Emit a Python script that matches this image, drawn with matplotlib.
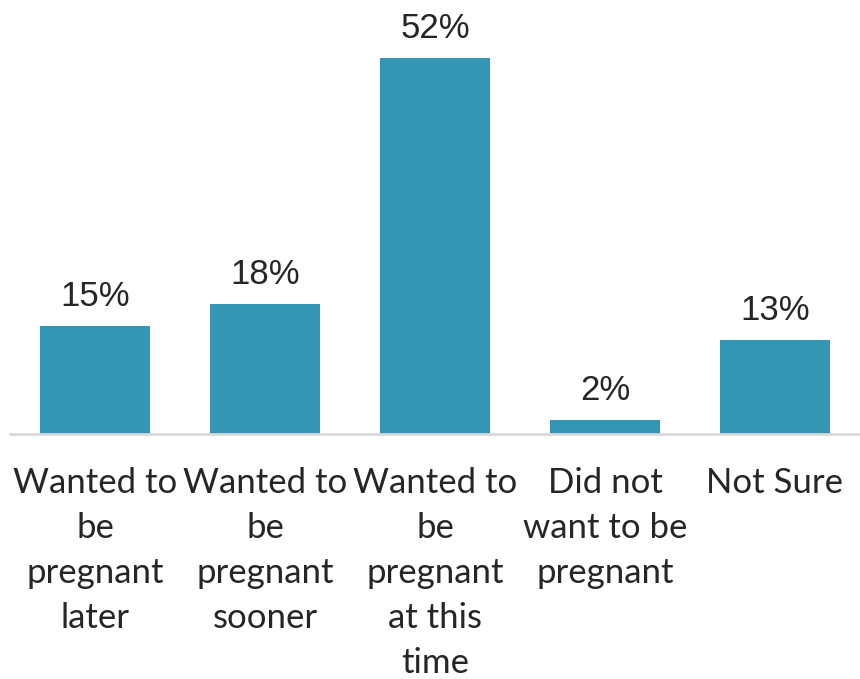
import matplotlib
matplotlib.use("Agg")
import matplotlib.pyplot as plt

categories = ["Wanted to\nbe\npregnant\nlater", "Wanted to\nbe\npregnant\nsooner",
              "Wanted to\nbe\npregnant\nat this\ntime", "Did not\nwant to be\npregnant", "Not Sure"]
values = [15, 18, 52, 2, 13]
labels = ["15%", "18%", "52%", "2%", "13%"]

fig = plt.figure(figsize=(8.6, 6.79), dpi=100)
ax = fig.add_axes([10/860, 245/679, 850/860, 434/679])
x = range(len(values))
bars = ax.bar(x, values, width=110/170, color="#3396B5", zorder=2)
ax.set_xlim(-0.5, 4.5)
ax.set_ylim(0, 60)
for b, lab in zip(bars, labels):
    ax.annotate(lab, (b.get_x() + b.get_width()/2, b.get_height()), xytext=(0, 9),
                textcoords="offset points", ha="center", va="bottom",
                fontsize=25, color="#262626", family="Liberation Sans")
for s in ["top", "right", "left"]:
    ax.spines[s].set_visible(False)
ax.spines["bottom"].set_color("#D9D9D9")
ax.spines["bottom"].set_linewidth(2)
ax.set_yticks([])
ax.set_xticks(list(x))
ax.set_xticklabels(categories, fontsize=25, color="#262626", family="Lato", linespacing=1.5)
ax.tick_params(axis="x", length=0, pad=24)
fig.savefig("out.png", dpi=100)
